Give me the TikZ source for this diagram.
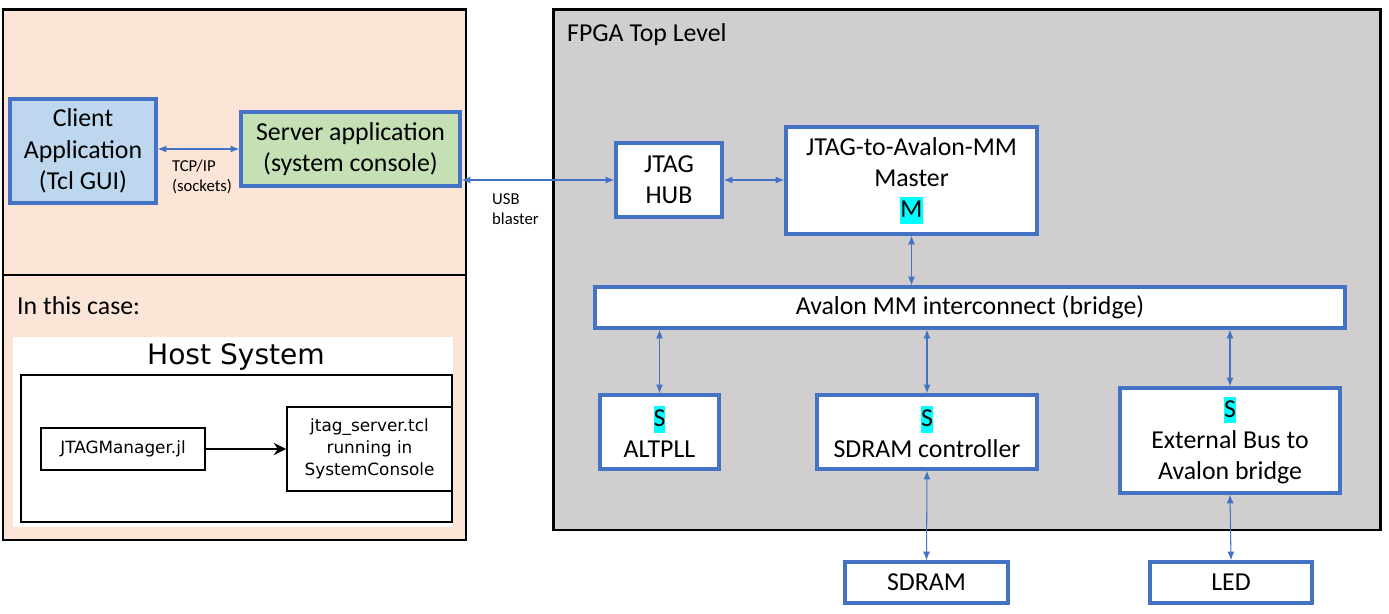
\documentclass[tikz,border=0pt]{standalone}
\usepackage{fontspec}
\setmainfont{Carlito}
\newfontfamily\hostfont{DejaVu Sans}
\usetikzlibrary{arrows.meta}
\usetikzlibrary{calc}

\definecolor{peach}{HTML}{FBE5D6}
\definecolor{fpgagray}{HTML}{D0CECE}
\definecolor{boxblue}{HTML}{4472C4}
\definecolor{clientblue}{HTML}{BDD7EE}
\definecolor{servergreen}{HTML}{C5E0B4}
\definecolor{hlcyan}{HTML}{00FFFF}

\newcommand{\hl}[1]{{\setlength{\fboxsep}{0pt}\colorbox{hlcyan}{\rule[-3.5pt]{0pt}{15pt}#1}}}

\tikzset{
	panel/.style={draw=black, line width=1.7pt},
	block/.style={draw=boxblue, line width=1.9pt, fill=white, align=center, inner sep=0pt,
		font=\fontsize{14.7}{17.8}\selectfont},
	biarrow/.style={draw=boxblue, line width=0.6pt, {Latex[length=5pt,width=4pt]}-{Latex[length=5pt,width=4pt]}},
	hostbox/.style={draw=black, line width=1.1pt, fill=white, align=center, inner sep=0pt,
		font=\hostfont\fontsize{9.6}{12.7}\selectfont}
}

\begin{document}
\begin{tikzpicture}[x=0.02cm, y=-0.02cm]
		\useasboundingbox (0,0) rectangle (1389,614);

		% host side
		\draw[panel, fill=peach] (3,10) rectangle (466,275);
		\draw[panel, fill=peach] (3,275) rectangle (466,540);
		% fpga side
		\draw[panel, fill=fpgagray] (553,10) rectangle (1380,530);

		\node[block, fill=clientblue, minimum width=2.92cm, minimum height=2.08cm] (client) at (83,151) {Client\\Application\\(Tcl GUI)};
		\node[block, fill=servergreen, minimum width=4.38cm, minimum height=1.48cm] (server) at (350.5,149) {Server application\\(system console)};
		\node[font=\fontsize{9.5}{11.3}\selectfont, align=left] (tcp) at (202,177) {TCP/IP\\(sockets)};

		\node[font=\fontsize{14.7}{17.8}\selectfont, anchor=west] (fpga) at (561,35) {FPGA Top Level};
		\node[font=\fontsize{14.7}{17.8}\selectfont, anchor=west] (case) at (11,306) {In this case:};
		\node[font=\fontsize{9.5}{11.3}\selectfont, align=left, anchor=west] (usb) at (486,209) {USB\\blaster};

		\node[block, minimum width=2.12cm, minimum height=1.48cm] (hub) at (669,180) {JTAG\\HUB};
		\node[block, minimum width=5.02cm, minimum height=2.14cm] (master) at (911.5,180.5) {JTAG-to-Avalon-MM\\Master\\\hl{M}};
		\node[block, minimum width=15.0cm, minimum height=0.82cm] (bridge) at (970,307.5) {Avalon MM interconnect (bridge)};
		\node[block, minimum width=2.38cm, minimum height=1.48cm] (pll) at (659.5,432) {\hl{S}\\ALTPLL};
		\node[block, minimum width=4.4cm, minimum height=1.48cm] (sdramctl) at (927,432) {\hl{S}\\SDRAM controller};
		\node[block, minimum width=4.4cm, minimum height=2.1cm] (extbus) at (1230,440.5) {\hl{S}\\External Bus to\\Avalon bridge};
		\node[block, minimum width=3.26cm, minimum height=0.82cm] (sdram) at (926.5,582.5) {SDRAM};
		\node[block, minimum width=3.24cm, minimum height=0.82cm] (led) at (1231,582.5) {LED};

		\draw[biarrow] (client.east |- server.west) -- (server.west);
		\draw[biarrow] (server.east |- hub.west) -- (hub.west);
		\draw[biarrow] (hub.east) -- (master.west |- hub.east);
		\draw[biarrow] (master.south) -- (master.south |- bridge.north);
		\foreach \n in {pll,sdramctl,extbus}
			\draw[biarrow] (\n.north |- bridge.south) -- (\n.north);
		\draw[biarrow] (sdramctl.south) -- (sdram.north);
		\draw[biarrow] (extbus.south) -- (led.north);

		% host system inset
		\fill[white] (13,337) rectangle (453,527);
		\node[font=\hostfont\fontsize{16}{19}\selectfont] (host) at (236,357) {Host System};
		\draw[black, line width=1.1pt] (21,375) rectangle (452,522);
		\node[hostbox, minimum width=3.28cm, minimum height=0.84cm] (jmgr) at (123,449) {JTAGManager.jl};
		\node[hostbox, minimum width=3.3cm, minimum height=1.68cm] (jserver) at (369.5,449) {jtag\_server.tcl\\running in\\SystemConsole};
		\draw[black, line width=1.1pt, -{Stealth[length=7pt,width=7pt]}] (jmgr.east) -- (jserver.west);
	\end{tikzpicture}
\end{document}
